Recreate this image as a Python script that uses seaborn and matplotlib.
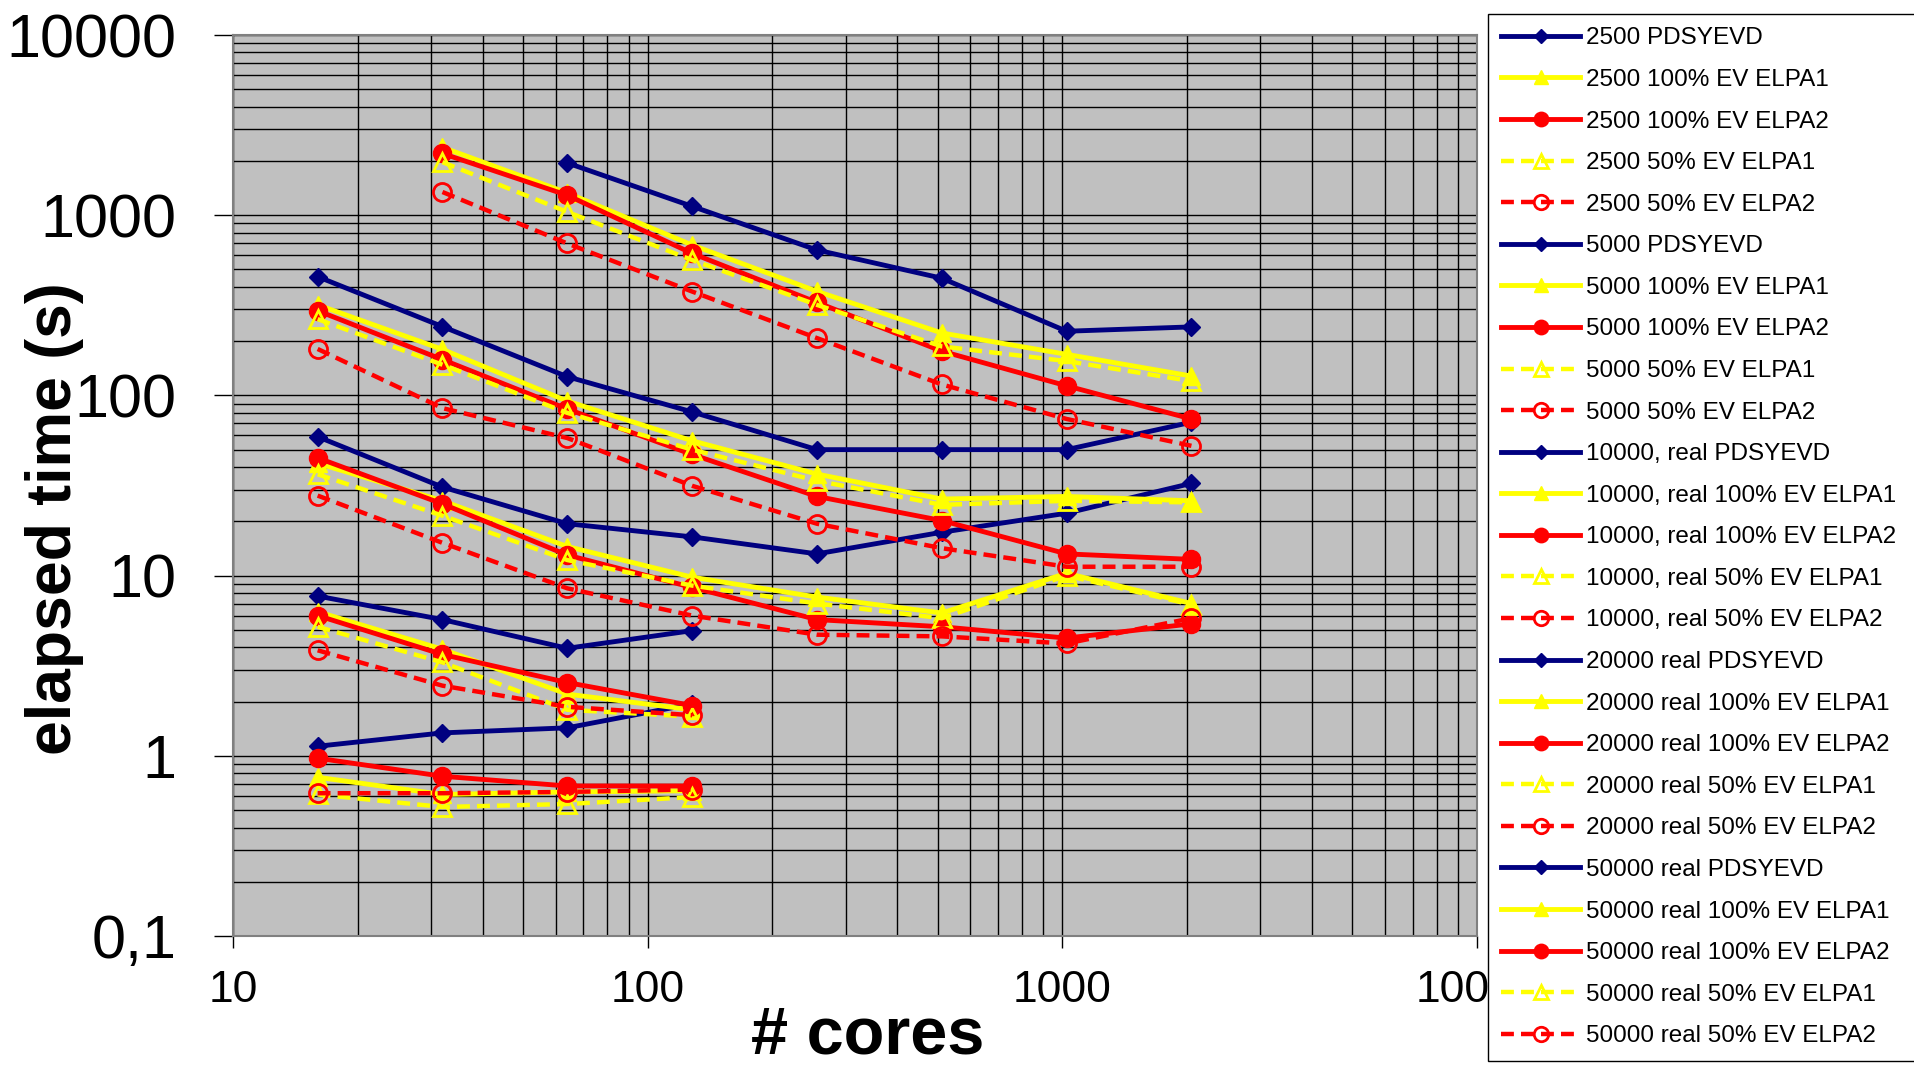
import numpy as np
import pandas as pd
import matplotlib
matplotlib.use("Agg")
import matplotlib.pyplot as plt
from matplotlib.ticker import LogLocator, NullFormatter
import seaborn as sns

nan = np.nan

cores = [16, 32, 64, 128, 256, 512, 1024, 2048]

# elapsed time (s) per series
t2500_pdsyevd = [1.13, 1.34, 1.43, 1.94, nan, nan, nan, nan]
t2500_elpa1_100 = [0.76, 0.61, 0.63, 0.64, nan, nan, nan, nan]
t2500_elpa2_100 = [0.97, 0.77, 0.68, 0.68, nan, nan, nan, nan]
t2500_elpa1_50 = [0.61, 0.52, 0.54, 0.59, nan, nan, nan, nan]
t2500_elpa2_50 = [0.62, 0.62, 0.63, 0.65, nan, nan, nan, nan]

t5000_pdsyevd = [7.7, 5.7, 3.95, 4.95, nan, nan, nan, nan]
t5000_elpa1_100 = [6.3, 3.9, 2.2, 1.8, nan, nan, nan, nan]
t5000_elpa2_100 = [6.0, 3.65, 2.55, 1.9, nan, nan, nan, nan]
t5000_elpa1_50 = [5.2, 3.3, 1.8, 1.65, nan, nan, nan, nan]
t5000_elpa2_50 = [3.85, 2.45, 1.87, 1.68, nan, nan, nan, nan]

t10000_pdsyevd = [59, 31, 19.4, 16.4, 13.2, 17.4, 22.2, 32.5]
t10000_elpa1_100 = [42, 26, 14.5, 9.8, 7.6, 6.2, 10.3, 7.0]
t10000_elpa2_100 = [45, 25, 13.0, 8.6, 5.7, 5.2, 4.5, 5.4]
t10000_elpa1_50 = [36.5, 21.5, 12.2, 8.8, 7.0, 5.8, 10.0, 6.9]
t10000_elpa2_50 = [27.8, 15.2, 8.5, 6.0, 4.7, 4.6, 4.2, 5.8]

t20000_pdsyevd = [456, 241, 127, 81, 50, 50, 50, 71]
t20000_elpa1_100 = [318, 180, 93, 56, 36.6, 26.6, 27.5, 26]
t20000_elpa2_100 = [295, 158, 84, 47, 27.5, 20.2, 13.2, 12.3]
t20000_elpa1_50 = [265, 148, 80, 50, 33.6, 24.7, 26, 25.5]
t20000_elpa2_50 = [181, 85, 58, 31.5, 19.4, 14.2, 11.2, 11.2]

t50000_pdsyevd = [nan, nan, 1950, 1120, 641, 447, 227, 240]
t50000_elpa1_100 = [nan, 2380, 1330, 683, 378, 222, 169, 128]
t50000_elpa2_100 = [nan, 2200, 1290, 614, 328, 176, 113, 74]
t50000_elpa1_50 = [nan, 1970, 1043, 564, 318, 187, 155, 120]
t50000_elpa2_50 = [nan, 1345, 697, 377, 208, 115, 74, 52.5]

sizes = ["2500", "5000", "10000, real", "20000 real", "50000 real"]
methods = ["PDSYEVD", "100% EV ELPA1", "100% EV ELPA2", "50% EV ELPA1", "50% EV ELPA2"]
times = [
    [t2500_pdsyevd, t2500_elpa1_100, t2500_elpa2_100, t2500_elpa1_50, t2500_elpa2_50],
    [t5000_pdsyevd, t5000_elpa1_100, t5000_elpa2_100, t5000_elpa1_50, t5000_elpa2_50],
    [t10000_pdsyevd, t10000_elpa1_100, t10000_elpa2_100, t10000_elpa1_50, t10000_elpa2_50],
    [t20000_pdsyevd, t20000_elpa1_100, t20000_elpa2_100, t20000_elpa1_50, t20000_elpa2_50],
    [t50000_pdsyevd, t50000_elpa1_100, t50000_elpa2_100, t50000_elpa1_50, t50000_elpa2_50],
]

y_ticks = [0.1, 1, 10, 100, 1000, 10000]
y_ticklabels = ["0,1", "1", "10", "100", "1000", "10000"]
x_ticks = [10, 100, 1000, 10000]
x_ticklabels = ["10", "100", "1000", "10000"]

navy, yellow, red = "#000080", "#FFFF00", "#FF0000"
dash = (0, (2.9, 1.6))
styles = {
    "PDSYEVD": dict(color=navy, marker="D", markersize=9.5, linestyle="-", linewidth=3.5,
                    markerfacecolor=navy, markeredgecolor=navy, markeredgewidth=1),
    "100% EV ELPA1": dict(color=yellow, marker="^", markersize=13, linestyle="-", linewidth=3.5,
                          markerfacecolor=yellow, markeredgecolor=yellow, markeredgewidth=1),
    "100% EV ELPA2": dict(color=red, marker="o", markersize=13, linestyle="-", linewidth=3.5,
                          markerfacecolor=red, markeredgecolor=red, markeredgewidth=1),
    "50% EV ELPA1": dict(color=yellow, marker="^", markersize=13, linestyle=dash, linewidth=3.2,
                         markerfacecolor="none", markeredgecolor=yellow, markeredgewidth=2),
    "50% EV ELPA2": dict(color=red, marker="o", markersize=13, linestyle=dash, linewidth=3.2,
                         markerfacecolor="none", markeredgecolor=red, markeredgewidth=2),
}

fig = plt.figure(figsize=(19.15, 10.68), dpi=100)
ax = fig.add_axes([233 / 1915, 132 / 1068, 1244 / 1915, 901 / 1068])
ax.set_facecolor("#C0C0C0")
ax.set_xscale("log")
ax.set_yscale("log")

for size, series in zip(sizes, times):
    for method, vals in zip(methods, series):
        df = pd.DataFrame({"cores": cores, "time": vals}).dropna()
        sns.lineplot(data=df, x="cores", y="time", ax=ax, estimator=None, sort=False,
                     label=f"{size} {method}", zorder=3, **styles[method])

ax.set_xlim(10, 10000)
ax.set_ylim(0.1, 10000)

# grid: major + minor, black
for axis in (ax.xaxis, ax.yaxis):
    axis.set_minor_locator(LogLocator(base=10, subs=np.arange(2, 10), numticks=100))
    axis.set_minor_formatter(NullFormatter())
ax.grid(True, which="both", color="black", linewidth=1.0)
ax.set_axisbelow(True)

ax.set_yticks(y_ticks, y_ticklabels, fontsize=44, fontfamily="Liberation Sans")
ax.set_xticks(x_ticks, x_ticklabels, fontsize=32,
              fontfamily=["Liberation Sans Narrow", "Liberation Sans"])
ax.tick_params(axis="y", which="major", direction="out", length=13.7, width=1, pad=27)
ax.tick_params(axis="x", which="major", direction="out", length=8.6, width=1, pad=16)
ax.tick_params(which="minor", length=0)
for sp in ax.spines.values():
    sp.set_color("#808080")
    sp.set_linewidth(1.5)

ax.set_xlabel("# cores", fontsize=48, fontweight="bold", fontfamily="Liberation Sans", va="center")
ax.xaxis.set_label_coords(0.5105, -0.111)
ax.set_ylabel("elapsed time (s)", fontsize=45, fontweight="bold", fontfamily="Liberation Sans",
              va="center")
ax.yaxis.set_label_coords(-0.1431, 0.4628)

# legend box runs off the right edge of the figure, as in the original
handles, labels = ax.get_legend_handles_labels()
leg = ax.legend(handles, labels, loc="upper left",
                bbox_to_anchor=(1488 / 1915, 0, 0.3, 1 - 14 / 1068),
                bbox_transform=fig.transFigure, mode="expand", borderaxespad=0,
                frameon=True, fancybox=False, edgecolor="black", framealpha=1,
                facecolor="white", prop={"family": "Liberation Sans", "size": 17.5},
                handlelength=3.25, handletextpad=0.25, labelspacing=0.805, borderpad=0.55,
                markerscale=0.8)
leg.get_frame().set_linewidth(1.0)
leg.set_zorder(10)

fig.savefig("out.png", dpi=100, facecolor="white")
